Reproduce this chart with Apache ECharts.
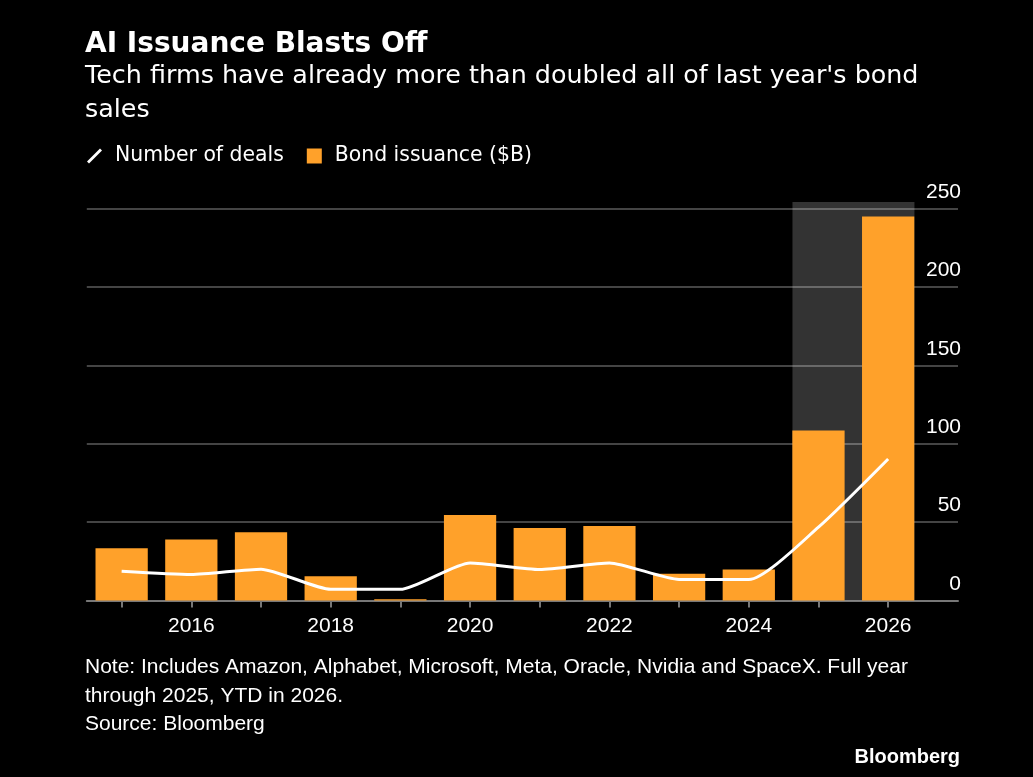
<!DOCTYPE html>
<html>
<head>
<meta charset="utf-8">
<script src="https://cdn.jsdelivr.net/npm/echarts@6/dist/echarts.min.js"></script>
<style>
  html, body { margin: 0; padding: 0; background: #000; }
  #chart { width: 1033px; height: 777px; }
</style>
</head>
<body>
<div id="chart"></div>
<script>
// data
var years = ['2015', '2016', '2017', '2018', '2019', '2020', '2021', '2022', '2023', '2024', '2025', '2026'];
var bondIssuance = [33.4, 39, 43.6, 15.5, 0.8, 54.6, 46.3, 47.6, 17, 19.8, 108.4, 245];
var numberOfDeals = [18.7, 16.6, 20, 7.1, 7.1, 24, 19.8, 24, 13.4, 13.4, 46.8, 90.3];
var yTicks = [0, 50, 100, 150, 200, 250];
// shaded period (2025-2026), in years
var shadedYears = [2025, 2026];

var myChart = echarts.init(document.getElementById('chart'));

var orange = '#ffa12a';
var narrow = '"Liberation Sans Narrow", "Arial Narrow", sans-serif';
var sans = '"DejaVu Sans", Verdana, sans-serif';

// half width of a bar in year units (bar 75% of the category)
var half = 0.375;

var option = {
    backgroundColor: '#000',
    animation: false,
    title: [
        {
            text: 'AI Issuance Blasts Off',
            left: 85, top: 31, padding: 0,
            textStyle: { color: '#fff', fontFamily: sans, fontWeight: 'bold', fontSize: 28 }
        },
        {
            text: "Tech firms have already more than doubled all of last year's bond\nsales",
            left: 85, top: 59, padding: 0,
            textStyle: { color: '#fff', fontFamily: sans, fontWeight: 'normal', fontSize: 25.4, lineHeight: 34 }
        },
        {
            text: 'Note: Includes Amazon, Alphabet, Microsoft, Meta, Oracle, Nvidia and SpaceX. Full year\nthrough 2025, YTD in 2026.\nSource: Bloomberg',
            left: 85, top: 653, padding: 0,
            textStyle: { color: '#fff', fontFamily: narrow, fontWeight: 'normal', fontSize: 21, lineHeight: 28.5 }
        },
        {
            text: 'Bloomberg',
            right: 73, top: 747, padding: 0,
            textStyle: { color: '#fff', fontFamily: narrow, fontWeight: 'bold', fontSize: 20 }
        }
    ],
    legend: {
        left: 87, top: 146, padding: 0,
        itemWidth: 15, itemHeight: 15, itemGap: 23,
        textStyle: { color: '#fff', fontFamily: sans, fontSize: 20.4, padding: [0, 0, 0, 8] },
        data: [
            { name: 'Number of deals', icon: 'path://M0,13 L2,15 L15,2 L13,0 Z' },
            { name: 'Bond issuance ($B)', icon: 'path://M1,1 L14,1 L14,14 L1,14 Z' }
        ]
    },
    grid: [
        { left: 86.8, right: 110, top: 208.7, bottom: 176.5 },
        { left: 86.8, right: 75, top: 208.7, bottom: 176.5 },
        { left: 86.8, right: 75, top: 202, bottom: 176.5 }
    ],
    xAxis: [
        {
            type: 'category', gridIndex: 0, data: years,
            axisLine: { show: false },
            axisTick: { show: true, alignWithLabel: true, interval: 0, length: 7, lineStyle: { color: '#777', width: 2 } },
            axisLabel: {
                color: '#fff', fontFamily: narrow, fontSize: 21, margin: 15,
                interval: function (index) { return index % 2 === 1; }
            },
            splitLine: { show: false }
        },
        {
            type: 'value', gridIndex: 1, min: 2014.5, max: 2027,
            axisLine: { show: true, onZero: false, lineStyle: { color: '#777', width: 2 } },
            axisTick: { show: false },
            axisLabel: { show: false },
            splitLine: { show: false }
        },
        {
            type: 'value', gridIndex: 2, min: 2014.5, max: 2027, show: false
        }
    ],
    yAxis: [
        { type: 'value', gridIndex: 0, min: 0, max: 250, show: false },
        {
            type: 'value', gridIndex: 1, position: 'right', min: 0, max: 250, interval: 50,
            axisLine: { show: false },
            axisTick: { show: false },
            axisLabel: {
                inside: true, margin: -3, color: '#fff', fontFamily: narrow, fontSize: 21,
                verticalAlign: 'bottom', padding: [0, 0, 6, 0],
                customValues: yTicks
            },
            splitLine: { lineStyle: { color: '#444', width: 2 } }
        },
        { type: 'value', gridIndex: 2, min: 0, max: 254, show: false }
    ],
    series: [
        {
            name: 'shade', type: 'line', xAxisIndex: 2, yAxisIndex: 2, data: [],
            silent: true,
            markArea: {
                silent: true,
                itemStyle: { color: 'rgba(255,255,255,0.2)' },
                data: [[
                    { xAxis: shadedYears[0] - half, yAxis: 0 },
                    { xAxis: shadedYears[1] + half, yAxis: 254 }
                ]]
            }
        },
        {
            name: 'Bond issuance ($B)', type: 'bar', xAxisIndex: 0, yAxisIndex: 0,
            data: bondIssuance, barCategoryGap: '25%',
            itemStyle: { color: orange },
            z: 3
        },
        {
            name: 'Number of deals', type: 'line', xAxisIndex: 0, yAxisIndex: 0,
            data: numberOfDeals, smooth: 0.2, symbol: 'none',
            lineStyle: { color: '#fff', width: 3 },
            itemStyle: { color: '#fff' },
            z: 4
        }
    ]
};

myChart.setOption(option, true);
</script>
</body>
</html>
